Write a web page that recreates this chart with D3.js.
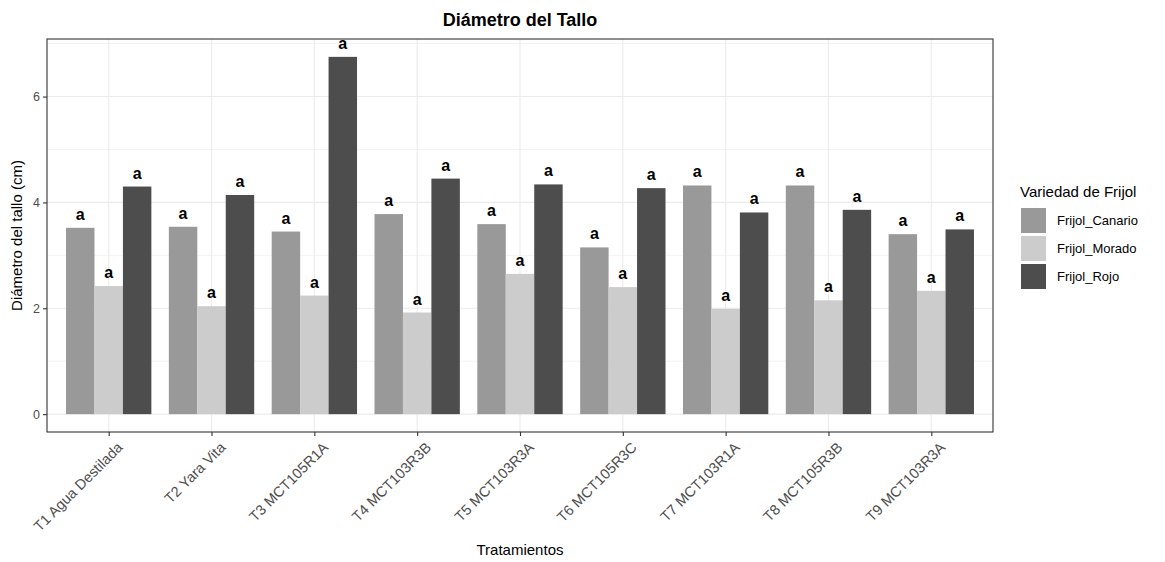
<!DOCTYPE html>
<html>
<head>
<meta charset="utf-8">
<script src="https://cdn.jsdelivr.net/npm/d3@7"></script>
<style>
  body { margin: 0; background: #fff; }
  svg { display: block; font-family: "Liberation Sans", Arial, sans-serif; }
</style>
</head>
<body>
<svg id="chart" width="1165" height="562"></svg>
<script>
// Treatments (x categories)
const tratamientos = [
  "T1 Agua Destilada", "T2 Yara Vita", "T3 MCT105R1A", "T4 MCT103R3B",
  "T5 MCT103R3A", "T6 MCT105R3C", "T7 MCT103R1A", "T8 MCT105R3B", "T9 MCT103R3A"
];
// Bean varieties (fill groups)
const variedades = ["Frijol_Canario", "Frijol_Morado", "Frijol_Rojo"];
// Mean stem diameter (cm) per treatment, one array per variety
const canario = [3.52, 3.54, 3.45, 3.78, 3.59, 3.15, 4.32, 4.32, 3.40];
const morado  = [2.42, 2.04, 2.24, 1.92, 2.65, 2.40, 1.99, 2.15, 2.33];
const rojo    = [4.30, 4.14, 6.75, 4.45, 4.34, 4.27, 3.81, 3.86, 3.49];
// Significance letters per variety
const letrasCanario = ["a","a","a","a","a","a","a","a","a"];
const letrasMorado  = ["a","a","a","a","a","a","a","a","a"];
const letrasRojo    = ["a","a","a","a","a","a","a","a","a"];
const yTicks = [0, 2, 4, 6];
const yMinor = [1, 3, 5, 7];

const series = [
  { name: variedades[0], values: canario, letters: letrasCanario, fill: "#999999" },
  { name: variedades[1], values: morado,  letters: letrasMorado,  fill: "#cccccc" },
  { name: variedades[2], values: rojo,    letters: letrasRojo,    fill: "#4d4d4d" }
];

const rows = [];
tratamientos.forEach((t, i) => {
  series.forEach(s => rows.push({ t, serie: s.name, value: s.values[i], letter: s.letters[i], fill: s.fill }));
});

const svg = d3.select("#chart");
const panel = { left: 47, right: 993, top: 39, bottom: 432 };

// ggplot-style expansion: 5% continuous, 0.6 units discrete
const maxV = d3.max(rows, d => d.value);
const span = maxV - 0;
const y = d3.scaleLinear()
  .domain([0 - span * 0.05, maxV + span * 0.05])
  .range([panel.bottom, panel.top]);

const nCat = tratamientos.length;
const step = (panel.right - panel.left) / (nCat - 1 + 1.2);
const x = d3.scalePoint()
  .domain(tratamientos)
  .range([panel.left + 0.6 * step, panel.right - 0.6 * step]);
const groupW = step * 0.83;
const xs = d3.scaleBand().domain(variedades).range([-groupW / 2, groupW / 2]).padding(0);

// Grid
const grid = svg.append("g");
grid.selectAll("line.minor").data(yMinor).join("line")
  .attr("x1", panel.left).attr("x2", panel.right)
  .attr("y1", d => y(d)).attr("y2", d => y(d))
  .attr("stroke", "#ebebeb").attr("stroke-width", 0.6);
grid.selectAll("line.major").data(yTicks).join("line")
  .attr("x1", panel.left).attr("x2", panel.right)
  .attr("y1", d => y(d)).attr("y2", d => y(d))
  .attr("stroke", "#ebebeb").attr("stroke-width", 1.1);
grid.selectAll("line.vx").data(tratamientos).join("line")
  .attr("x1", d => x(d)).attr("x2", d => x(d))
  .attr("y1", panel.top).attr("y2", panel.bottom)
  .attr("stroke", "#ebebeb").attr("stroke-width", 1.1);

// Bars
svg.append("g").selectAll("rect").data(rows).join("rect")
  .attr("x", d => x(d.t) + xs(d.serie))
  .attr("width", xs.bandwidth())
  .attr("y", d => y(d.value))
  .attr("height", d => y(0) - y(d.value))
  .attr("fill", d => d.fill);

// Panel border
svg.append("rect")
  .attr("x", panel.left).attr("y", panel.top)
  .attr("width", panel.right - panel.left).attr("height", panel.bottom - panel.top)
  .attr("fill", "none").attr("stroke", "#333333").attr("stroke-width", 1.1);

// Letters
svg.append("g").selectAll("text").data(rows).join("text")
  .attr("x", d => x(d.t) + xs(d.serie) + xs.bandwidth() / 2)
  .attr("y", d => y(d.value) - 8)
  .attr("text-anchor", "middle")
  .attr("font-size", 16).attr("font-weight", "bold").attr("fill", "#000")
  .text(d => d.letter);

// Y axis
const yAxis = d3.axisLeft(y).tickValues(yTicks).tickSize(4).tickPadding(3).tickFormat(d3.format("d"));
const gy = svg.append("g").attr("transform", `translate(${panel.left},0)`).call(yAxis);
gy.select(".domain").remove();
gy.selectAll(".tick line").attr("stroke", "#333333").attr("stroke-width", 1.1);
gy.selectAll(".tick text").attr("fill", "#4d4d4d").attr("font-size", 12.5)
  .attr("font-family", "Liberation Sans, Arial, sans-serif");

// X axis
const xAxis = d3.axisBottom(x).tickSize(4).tickPadding(2);
const gx = svg.append("g").attr("transform", `translate(0,${panel.bottom})`).call(xAxis);
gx.select(".domain").remove();
gx.selectAll(".tick line").attr("stroke", "#333333").attr("stroke-width", 1.1);
gx.selectAll(".tick text")
  .attr("fill", "#4d4d4d").attr("font-size", 14.5)
  .attr("font-family", "Liberation Sans, Arial, sans-serif")
  .attr("text-anchor", "end")
  .attr("dy", null)
  .attr("transform", "translate(7,9) rotate(-45)")
  .attr("y", 0).attr("x", 0)
  .attr("dominant-baseline", "hanging");

// Titles
svg.append("text").attr("x", (panel.left + panel.right) / 2).attr("y", 26)
  .attr("text-anchor", "middle").attr("font-size", 18).attr("font-weight", "bold")
  .attr("fill", "#000").text("Diámetro del Tallo");
svg.append("text").attr("x", (panel.left + panel.right) / 2).attr("y", 555)
  .attr("text-anchor", "middle").attr("font-size", 15).attr("fill", "#000")
  .text("Tratamientos");
svg.append("text")
  .attr("transform", `translate(22,${(panel.top + panel.bottom) / 2}) rotate(-90)`)
  .attr("text-anchor", "middle").attr("font-size", 15).attr("fill", "#000")
  .text("Diámetro del tallo (cm)");

// Legend
const lg = svg.append("g").attr("transform", "translate(1020,0)");
lg.append("text").attr("x", 0).attr("y", 197).attr("font-size", 15).attr("fill", "#000")
  .text("Variedad de Frijol");
const items = lg.selectAll("g.item").data(series).join("g")
  .attr("transform", (d, i) => `translate(0,${208 + i * 28})`);
items.append("rect").attr("x", 1).attr("y", 0).attr("width", 25).attr("height", 25)
  .attr("fill", d => d.fill);
items.append("text").attr("x", 37).attr("y", 12.5).attr("dy", "0.35em")
  .attr("font-size", 13).attr("fill", "#000").text(d => d.name);
</script>
</body>
</html>
